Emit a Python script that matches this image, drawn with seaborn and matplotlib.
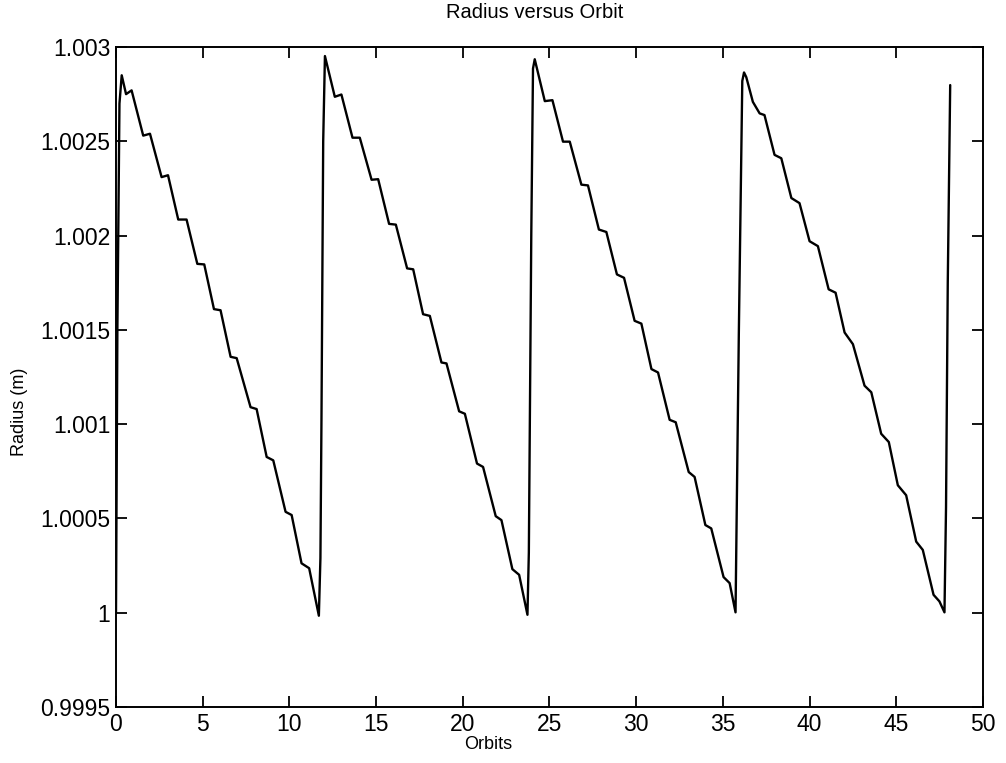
import matplotlib
matplotlib.use("Agg")
import matplotlib.pyplot as plt
import pandas as pd
import seaborn as sns

# Values (orbit number, radius in m)
orbits = [
    0.0, 0.08, 0.2, 0.33, 0.58, 0.9, 1.57, 1.96, 2.63, 3.0, 3.59, 4.07,
    4.69, 5.09, 5.65, 6.03, 6.61, 6.96, 7.76, 8.11, 8.69, 9.07, 9.78, 10.13,
    10.7, 11.14, 11.70, 11.79, 11.85, 11.95, 12.05,
    12.62, 13.0, 13.64, 14.06, 14.74, 15.12, 15.75, 16.14, 16.79, 17.14,
    17.71, 18.1, 18.77, 19.06, 19.79, 20.12, 20.82, 21.17, 21.9, 22.23,
    22.86, 23.25, 23.73, 23.81, 23.95, 24.05, 24.15,
    24.73, 25.17, 25.78, 26.17, 26.84, 27.22, 27.85, 28.28, 28.89, 29.3,
    29.91, 30.3, 30.88, 31.26, 31.93, 32.28, 33.03, 33.37, 33.99, 34.33,
    35.04, 35.39, 35.73, 35.92, 36.12, 36.22, 36.35,
    36.73, 37.12, 37.4, 37.98, 38.37, 38.95, 39.42, 40.0, 40.48, 41.1,
    41.5, 42.02, 42.5, 43.17, 43.56, 44.13, 44.57, 45.09, 45.57, 46.15,
    46.53, 47.15, 47.49, 47.78, 47.87, 47.97, 48.11,
]
radius = [
    1.0, 1.0015, 1.0027, 1.00285, 1.00275, 1.00277, 1.00253, 1.00254,
    1.00231, 1.00232, 1.002085, 1.002085, 1.00185, 1.001847, 1.00161,
    1.001604, 1.001357, 1.00135, 1.00109, 1.00108, 1.000826, 1.000808,
    1.000535, 1.000518, 1.000262, 1.000236, 0.999984, 1.00029, 1.00102,
    1.0025, 1.002952,
    1.002736, 1.002748, 1.002519, 1.002519, 1.002296, 1.002299, 1.002062,
    1.002058, 1.001826, 1.001821, 1.001583, 1.001574, 1.001327, 1.001322,
    1.001068, 1.001055, 1.000791, 1.000773, 1.000512, 1.000491, 1.000231,
    1.000201, 0.999989, 1.00032, 1.002, 1.002886, 1.002935,
    1.002713, 1.002718, 1.002498, 1.002498, 1.00227, 1.002266, 1.002032,
    1.002019, 1.001794, 1.001776, 1.001548, 1.001533, 1.001292, 1.001274,
    1.001023, 1.00101, 1.000746, 1.00072, 1.000465, 1.000447, 1.000189,
    1.000157, 1.000002, 1.00148, 1.00282, 1.002865, 1.00284,
    1.002709, 1.002648, 1.002639, 1.002428, 1.00241, 1.002199, 1.002172,
    1.00197, 1.001944, 1.001715, 1.001697, 1.001486, 1.001424, 1.001204,
    1.001169, 1.000949, 1.000905, 1.000676, 1.000623, 1.000377, 1.000333,
    1.000095, 1.00006, 1.000002, 1.00056, 1.00175, 1.002798,
]

x_ticks = [0, 5, 10, 15, 20, 25, 30, 35, 40, 45, 50]
y_ticks = [0.9995, 1.0, 1.0005, 1.001, 1.0015, 1.002, 1.0025, 1.003]
y_tick_labels = ["0.9995", "1", "1.0005", "1.001", "1.0015", "1.002", "1.0025", "1.003"]

sns.set_style("white")
plt.rcParams["font.family"] = ["Liberation Sans", "DejaVu Sans"]
plt.rcParams["text.color"] = "black"
plt.rcParams["axes.labelcolor"] = "black"

df = pd.DataFrame({"Orbits": orbits, "Radius": radius})

fig = plt.figure(figsize=(10.06, 7.63), dpi=100)
ax = fig.add_axes([0.1153, 0.0734, 0.8618, 0.865])

sns.lineplot(data=df, x="Orbits", y="Radius", sort=False, estimator=None,
             color="black", linewidth=1.7, ax=ax)

ax.set_xlim(0, 50)
ax.set_ylim(0.9995, 1.003)
ax.set_xticks(x_ticks)
ax.set_xticklabels([str(t) for t in x_ticks])
ax.set_yticks(y_ticks)
ax.set_yticklabels(y_tick_labels)

ax.tick_params(direction="in", length=8, width=1.3, top=True, right=True,
               bottom=True, left=True, labelsize=16.5, colors="black", pad=4)
for spine in ax.spines.values():
    spine.set_visible(True)
    spine.set_color("black")
    spine.set_linewidth(1.4)

# the scanned page has its labels a little off-centre
ax.set_xlabel("Orbits", fontsize=13)
ax.xaxis.set_label_coords(0.429, -0.044)
ax.set_ylabel("Radius (m)", fontsize=13)
ax.yaxis.set_label_coords(-0.1015, 0.447)
ax.set_title("Radius versus Orbit", fontsize=14.5, x=0.483, y=1.032)

fig.savefig("out.png", dpi=100, facecolor="white")
